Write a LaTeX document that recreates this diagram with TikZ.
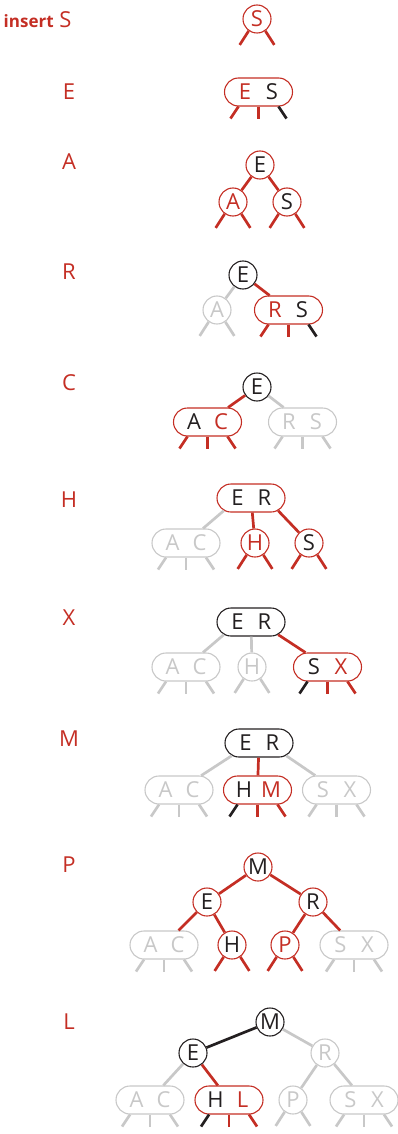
\documentclass[tikz,border=0pt]{standalone}
\usepackage{fontspec}
\setmainfont{Open Sans}
\usetikzlibrary{shapes.misc}
\definecolor{trred}{RGB}{196,46,36}
\definecolor{trgray}{RGB}{200,200,200}
\definecolor{trblack}{RGB}{35,31,32}

\begin{document}
\begin{tikzpicture}[
    x=1pt,
    y=-1pt,
    line cap=butt,
    font=\fontsize{22}{22}\selectfont,
    one/.style={circle, draw=#1, line width=1.1pt, minimum size=28pt, inner sep=0pt},
    two/.style={rounded rectangle, draw=#1, line width=1.1pt, minimum width=68pt, minimum height=28pt, inner sep=0pt},
    lk/.style={draw=#1, line width=2.7pt},
    lbl/.style={text=trred},
  ]

  \newcommand{\keypair}[4]{\makebox[27pt]{\textcolor{#1}{#2}}\makebox[27pt]{\textcolor{#3}{#4}}}
  \newcommand{\cleg}[3]{%
    \draw[lk=#2] (#1.-125) -- ++(-9,14);
    \draw[lk=#3] (#1.-55) -- ++(9,14);}
  \newcommand{\pleg}[4]{%
    \draw[lk=#2] ([xshift=-20pt]#1.south) -- ++(-8,12);
    \draw[lk=#3] (#1.south) -- ++(0,12);
    \draw[lk=#4] ([xshift=20pt]#1.south) -- ++(8,12);}

  \useasboundingbox (0,0) rectangle (397,1134);

  % Step labels
  \node[lbl, anchor=east] (lab1) at (75,20) {{\fontsize{17}{17}\selectfont\bfseries insert} S};
  \foreach \lab/\y [count=\i from 2] in {E/92, A/162, R/272, C/383, H/500, X/618, M/739, P/865, L/1022}
    \node[lbl] (lab\i) at (69,\y) {\lab};

  % insert S
  \node[one=trred, text=trred] (s1) at (257,19) {S};
  \cleg{s1}{trred}{trred}

  % insert E
  \node[two=trred] (es2) at (258.5,92) {\keypair{trred}{E}{trblack}{S}};
  \pleg{es2}{trred}{trred}{trblack}

  % insert A
  \node[one=trred, text=trblack] (e3) at (260,165) {E};
  \node[one=trred, text=trred] (a3) at (233,202) {A};
  \node[one=trred, text=trblack] (s3) at (287,202) {S};
  \draw[lk=trred] (e3) -- (a3);
  \draw[lk=trred] (e3) -- (s3);
  \cleg{a3}{trred}{trred}
  \cleg{s3}{trred}{trred}

  % insert R
  \node[one=trblack, text=trblack] (e4) at (243,275) {E};
  \node[one=trgray, text=trgray] (a4) at (217,310) {A};
  \node[two=trred] (rs4) at (288.5,310) {\keypair{trred}{R}{trblack}{S}};
  \draw[lk=trgray] (e4) -- (a4);
  \draw[lk=trred] (e4) -- (rs4);
  \cleg{a4}{trgray}{trgray}
  \pleg{rs4}{trred}{trred}{trblack}

  % insert C
  \node[one=trblack, text=trblack] (e5) at (257,387) {E};
  \node[two=trred] (ac5) at (207.5,422) {\keypair{trblack}{A}{trred}{C}};
  \node[two=trgray] (rs5) at (302.5,422) {\keypair{trgray}{R}{trgray}{S}};
  \draw[lk=trred] (e5) -- (ac5);
  \draw[lk=trgray] (e5) -- (rs5);
  \pleg{ac5}{trred}{trred}{trred}
  \pleg{rs5}{trgray}{trgray}{trgray}

  % insert H
  \node[two=trred] (er6) at (251,498) {\keypair{trblack}{E}{trblack}{R}};
  \node[two=trgray] (ac6) at (186,543) {\keypair{trgray}{A}{trgray}{C}};
  \node[one=trred, text=trred] (h6) at (255,543) {H};
  \node[one=trred, text=trblack] (s6) at (309,543) {S};
  \draw[lk=trgray] (er6.-155) -- (ac6);
  \draw[lk=trred] (er6) -- (h6);
  \draw[lk=trred] (er6.-25) -- (s6);
  \pleg{ac6}{trgray}{trgray}{trgray}
  \cleg{h6}{trred}{trred}
  \cleg{s6}{trred}{trred}

  % insert X
  \node[two=trblack] (er7) at (251,622) {\keypair{trblack}{E}{trblack}{R}};
  \node[two=trgray] (ac7) at (186,667) {\keypair{trgray}{A}{trgray}{C}};
  \node[one=trgray, text=trgray] (h7) at (252,667) {H};
  \node[two=trred] (sx7) at (327.5,667) {\keypair{trblack}{S}{trred}{X}};
  \draw[lk=trgray] (er7.-155) -- (ac7);
  \draw[lk=trgray] (er7) -- (h7);
  \draw[lk=trred] (er7.-25) -- (sx7);
  \pleg{ac7}{trgray}{trgray}{trgray}
  \cleg{h7}{trgray}{trgray}
  \pleg{sx7}{trblack}{trred}{trred}

  % insert M
  \node[two=trblack] (er8) at (259,743) {\keypair{trblack}{E}{trblack}{R}};
  \node[two=trgray] (ac8) at (179,790) {\keypair{trgray}{A}{trgray}{C}};
  \node[two=trred] (hm8) at (257.5,790) {\keypair{trblack}{H}{trred}{M}};
  \node[two=trgray] (sx8) at (336.5,790) {\keypair{trgray}{S}{trgray}{X}};
  \draw[lk=trgray] (er8.-155) -- (ac8);
  \draw[lk=trred] (er8) -- (hm8);
  \draw[lk=trgray] (er8.-25) -- (sx8);
  \pleg{ac8}{trgray}{trgray}{trgray}
  \pleg{hm8}{trblack}{trred}{trred}
  \pleg{sx8}{trgray}{trgray}{trgray}

  % insert P
  \node[one=trred, text=trblack] (m9) at (258,867) {M};
  \node[one=trred, text=trblack] (e9) at (207,902) {E};
  \node[one=trred, text=trblack] (r9) at (313,902) {R};
  \node[two=trgray] (ac9) at (164,945) {\keypair{trgray}{A}{trgray}{C}};
  \node[one=trred, text=trblack] (h9) at (232,945) {H};
  \node[one=trred, text=trred] (p9) at (285,945) {P};
  \node[two=trgray] (sx9) at (354,945) {\keypair{trgray}{S}{trgray}{X}};
  \draw[lk=trred] (m9) -- (e9);
  \draw[lk=trred] (m9) -- (r9);
  \draw[lk=trred] (e9) -- (ac9);
  \draw[lk=trred] (e9) -- (h9);
  \draw[lk=trred] (r9) -- (p9);
  \draw[lk=trred] (r9) -- (sx9);
  \pleg{ac9}{trgray}{trgray}{trgray}
  \cleg{h9}{trred}{trred}
  \cleg{p9}{trred}{trred}
  \pleg{sx9}{trgray}{trgray}{trgray}

  % insert L
  \node[one=trblack, text=trblack] (m10) at (270,1022) {M};
  \node[one=trblack, text=trblack] (e10) at (193,1053) {E};
  \node[one=trgray, text=trgray] (r10) at (325,1053) {R};
  \node[two=trgray] (ac10) at (150,1100) {\keypair{trgray}{A}{trgray}{C}};
  \node[two=trred] (hl10) at (229,1100) {\keypair{trblack}{H}{trred}{L}};
  \node[one=trgray, text=trgray] (p10) at (293,1100) {P};
  \node[two=trgray] (sx10) at (364,1100) {\keypair{trgray}{S}{trgray}{X}};
  \draw[lk=trblack] (m10) -- (e10);
  \draw[lk=trgray] (m10) -- (r10);
  \draw[lk=trgray] (e10) -- (ac10);
  \draw[lk=trred] (e10) -- (hl10);
  \draw[lk=trgray] (r10) -- (p10);
  \draw[lk=trgray] (r10) -- (sx10);
  \pleg{ac10}{trgray}{trgray}{trgray}
  \pleg{hl10}{trblack}{trred}{trred}
  \cleg{p10}{trgray}{trgray}
  \pleg{sx10}{trgray}{trgray}{trgray}
\end{tikzpicture}
\end{document}
